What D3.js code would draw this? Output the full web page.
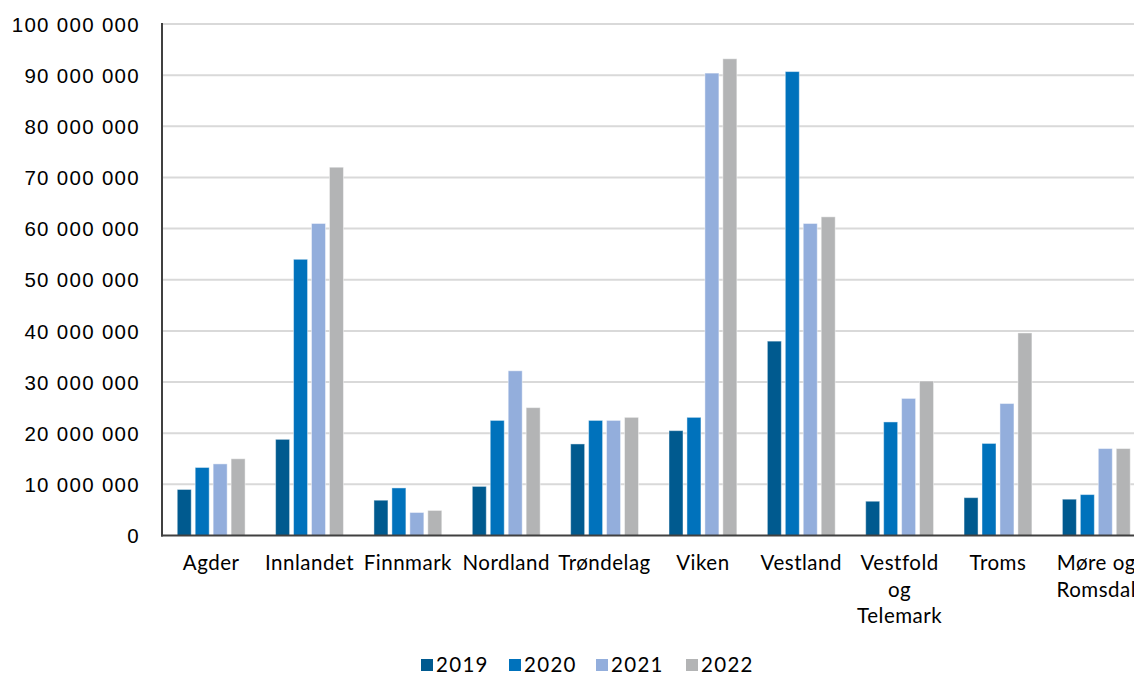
<!DOCTYPE html>
<html>
<head>
<meta charset="utf-8">
<script src="https://cdn.jsdelivr.net/npm/d3@7"></script>
<style>
  html, body { margin: 0; padding: 0; background: #fff; overflow: hidden; }
  svg { display: block; font-family: "Lato", "Open Sans", sans-serif; }
  .num { letter-spacing: 1.3px; }
  .cat { letter-spacing: 0.5px; }
</style>
</head>
<body>
<svg id="chart" width="1134" height="675"></svg>
<script>
// Regions (line breaks mark wrapped labels)
const regions = ["Agder", "Innlandet", "Finnmark", "Nordland", "Trøndelag", "Viken", "Vestland", "Vestfold\nog\nTelemark", "Troms", "Møre og\nRomsdal"];
const years = ["2019", "2020", "2021", "2022"];
const colors = ["#005a8f", "#0072bc", "#93aedc", "#b3b4b5"];

const v2019 = [9.0e6, 18.8e6, 6.9e6, 9.6e6, 17.9e6, 20.5e6, 38.0e6, 6.7e6, 7.4e6, 7.1e6];
const v2020 = [13.3e6, 54.0e6, 9.3e6, 22.5e6, 22.5e6, 23.1e6, 90.7e6, 22.2e6, 18.0e6, 8.0e6];
const v2021 = [14.0e6, 61.0e6, 4.5e6, 32.2e6, 22.5e6, 90.4e6, 61.0e6, 26.8e6, 25.8e6, 17.0e6];
const v2022 = [15.0e6, 72.0e6, 4.9e6, 25.0e6, 23.1e6, 93.2e6, 62.3e6, 30.2e6, 39.6e6, 17.0e6];
const series = [v2019, v2020, v2021, v2022];

const yTicks = [0, 10e6, 20e6, 30e6, 40e6, 50e6, 60e6, 70e6, 80e6, 90e6, 100e6];

const svg = d3.select("#chart");
const plotLeft = 162, plotTop = 24, plotBottom = 535.5;
const bandW = 98.35;
const plotRight = plotLeft + bandW * regions.length;
const fontSize = 20.5;

const x = d3.scaleBand().domain(regions).range([plotLeft, plotRight]).paddingInner(0.31).paddingOuter(0.155);
const xs = d3.scaleBand().domain(years).range([0, x.bandwidth()]).paddingInner(0.22);
const y = d3.scaleLinear().domain([0, 100e6]).range([plotBottom, plotTop]);

const fmt = v => d3.format(",")(v).replace(/,/g, " ");

// Gridlines
svg.append("g")
  .selectAll("line").data(yTicks.slice(1)).join("line")
  .attr("x1", plotLeft).attr("x2", 1134)
  .attr("y1", d => y(d)).attr("y2", d => y(d))
  .attr("stroke", "#d9d9d9").attr("stroke-width", 2);

// Y axis labels
const yAxis = svg.append("g").attr("transform", `translate(${plotLeft},0)`)
  .call(d3.axisLeft(y).tickValues(yTicks).tickFormat(fmt).tickSize(0).tickPadding(22));
yAxis.select(".domain").remove();
yAxis.selectAll("text").attr("class", "num").attr("font-size", fontSize).attr("fill", "#000").attr("dy", "0.35em");

// Bars
const groups = svg.append("g").selectAll("g").data(regions).join("g")
  .attr("transform", d => `translate(${x(d)},0)`);
groups.selectAll("rect")
  .data((d, i) => years.map((yr, k) => ({ yr, k, v: series[k][i] })))
  .join("rect")
  .attr("x", d => xs(d.yr))
  .attr("width", xs.bandwidth())
  .attr("y", d => y(d.v))
  .attr("height", d => y(0) - y(d.v))
  .attr("fill", d => colors[d.k])
  .attr("stroke", "rgba(255,255,255,0.45)")
  .attr("stroke-width", 1);

// Axis lines
svg.append("line").attr("x1", plotLeft).attr("x2", plotLeft).attr("y1", plotTop - 1).attr("y2", plotBottom + 1)
  .attr("stroke", "#404040").attr("stroke-width", 2);
svg.append("line").attr("x1", plotLeft - 1).attr("x2", 1134).attr("y1", plotBottom).attr("y2", plotBottom)
  .attr("stroke", "#404040").attr("stroke-width", 2);

// Category labels
const xl = svg.append("g").selectAll("text").data(regions).join("text")
  .attr("class", "cat")
  .attr("x", d => x(d) + x.bandwidth() / 2)
  .attr("y", 570)
  .attr("text-anchor", "middle")
  .attr("font-size", fontSize)
  .attr("fill", "#000");
xl.selectAll("tspan").data(d => d.split("\n")).join("tspan")
  .attr("x", function () { return d3.select(this.parentNode).attr("x"); })
  .attr("dy", (d, i) => i === 0 ? 0 : 26.5)
  .text(d => d);

// Legend
const legendX = [421, 509, 596, 686];
const lg = svg.append("g").selectAll("g").data(years).join("g")
  .attr("transform", (d, i) => `translate(${legendX[i]},659)`);
lg.append("rect").attr("width", 12).attr("height", 12).attr("fill", (d, i) => colors[i]);
lg.append("text").attr("class", "num").attr("x", 15).attr("y", 13).attr("font-size", fontSize).attr("fill", "#000").text(d => d);
</script>
</body>
</html>
